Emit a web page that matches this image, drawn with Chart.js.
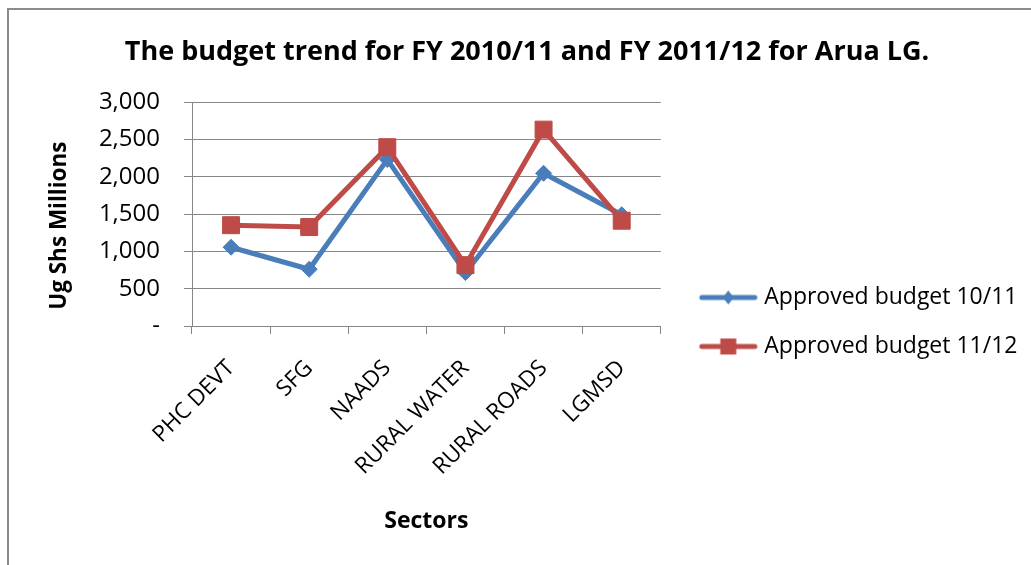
<!DOCTYPE html>
<html>
<head>
<meta charset="utf-8">
<title>Arua LG budget trend</title>
<script src="https://cdn.jsdelivr.net/npm/chart.js@4.4.1/dist/chart.umd.min.js"></script>
<style>
  html, body { margin: 0; padding: 0; background: #fff; overflow: hidden; }
  #frame { position: absolute; left: 7px; top: 8px; width: 1100px; height: 700px; border: 2px solid #8c8c8c; }
  #budgetChart { position: absolute; left: 0; top: 0; }
</style>
</head>
<body>
<div id="frame"></div>
<canvas id="budgetChart" width="1060" height="565"></canvas>
<script>
// --- DATA ---
const sectors = ['PHC DEVT', 'SFG', 'NAADS', 'RURAL WATER', 'RURAL ROADS', 'LGMSD'];
const budget1011 = [1055, 760, 2230, 715, 2045, 1490];
const budget1112 = [1350, 1325, 2395, 815, 2630, 1410];
const seriesNames = ['Approved budget 10/11', 'Approved budget 11/12'];
const yMin = 0;
const yMax = 3000;
const yStep = 500;

const BLUE = '#4a7ebb';
const RED = '#be4b48';
const GRID = '#868686';
const FONT = '"Open Sans", "Noto Sans", sans-serif';

// legend swatch: line with the series marker in the middle
function legendIcon(color, shape) {
  const c = document.createElement('canvas');
  c.width = 80;
  c.height = 24;
  const g = c.getContext('2d');
  g.strokeStyle = color;
  g.fillStyle = color;
  g.lineWidth = 5;
  g.lineCap = 'round';
  g.beginPath();
  g.moveTo(22, 12);
  g.lineTo(75, 12);
  g.stroke();
  g.beginPath();
  if (shape === 'diamond') {
    g.moveTo(48.5, 5); g.lineTo(54, 12); g.lineTo(48.5, 19); g.lineTo(43, 12);
  } else {
    g.rect(40.5, 4, 16, 16);
  }
  g.closePath();
  g.fill();
  return c;
}
const icons = [legendIcon(BLUE, 'diamond'), legendIcon(RED, 'square')];

const ctx = document.getElementById('budgetChart').getContext('2d');

new Chart(ctx, {
  type: 'line',
  data: {
    labels: sectors,
    datasets: [
      {
        label: seriesNames[0],
        data: budget1011,
        borderColor: BLUE,
        backgroundColor: BLUE,
        borderWidth: 5,
        tension: 0,
        pointStyle: 'rectRot',
        pointRadius: 8,
        pointBorderWidth: 1,
        pointBackgroundColor: BLUE,
        pointBorderColor: BLUE,
        order: 1
      },
      {
        label: seriesNames[1],
        data: budget1112,
        borderColor: RED,
        backgroundColor: RED,
        borderWidth: 5,
        tension: 0,
        pointStyle: 'rect',
        pointRadius: 12,
        pointBorderWidth: 1,
        pointBackgroundColor: RED,
        pointBorderColor: RED,
        order: 0   // red line sits on top of the blue one
      }
    ]
  },
  options: {
    responsive: false,
    animation: false,
    events: [],
    layout: { padding: { left: 26.5, right: 32.5, top: 0, bottom: 0 } },
    plugins: {
      tooltip: { enabled: false },
      title: {
        display: true,
        text: 'The budget trend for FY 2010/11 and FY 2011/12 for Arua LG.',
        color: '#000',
        font: { family: FONT, size: 27, weight: 'bold' },
        padding: { top: 35.8, bottom: 33.8 }
      },
      legend: {
        position: 'right',
        maxWidth: 400,
        // empty title only pushes the legend items down a bit
        title: { display: true, text: '', font: { size: 10 }, padding: { top: 67, bottom: 0 } },
        labels: {
          color: '#000',
          font: { family: FONT, size: 23 },
          padding: 26,
          usePointStyle: true,
          pointStyleWidth: 66,
          generateLabels: chart => chart.data.datasets.map((ds, i) => ({
            text: ds.label,
            fontColor: '#000',
            pointStyle: icons[i],
            fillStyle: ds.borderColor,
            strokeStyle: ds.borderColor,
            lineWidth: 0,
            hidden: false,
            datasetIndex: i
          }))
        }
      }
    },
    scales: {
      x: {
        offset: true,
        afterFit: scale => { scale.height = 239; },
        grid: { offset: true, drawOnChartArea: false, color: GRID, tickLength: 8 },
        border: { color: GRID },
        ticks: {
          color: '#000',
          font: { family: FONT, size: 22.5 },
          minRotation: 45,
          maxRotation: 45,
          autoSkip: false,
          padding: 21
        },
        title: {
          display: true,
          text: 'Sectors',
          color: '#000',
          font: { family: FONT, size: 23, weight: 'bold' },
          padding: { bottom: 30 }
        }
      },
      y: {
        min: yMin,
        max: yMax,
        afterFit: scale => { scale.width = 165.5; },
        grid: { color: GRID, tickLength: 8 },
        border: { color: GRID },
        ticks: {
          stepSize: yStep,
          color: '#000',
          font: { family: FONT, size: 24 },
          padding: 24,
          callback: v => v === 0 ? '-' : v.toLocaleString('en-US')
        },
        title: {
          display: true,
          // trailing spaces let the rotated title sit a little lower
          text: 'Ug Shs Millions    ',
          color: '#000',
          font: { family: FONT, size: 22.5, weight: 'bold' },
          padding: { top: 20 }
        }
      }
    }
  }
});
</script>
</body>
</html>
